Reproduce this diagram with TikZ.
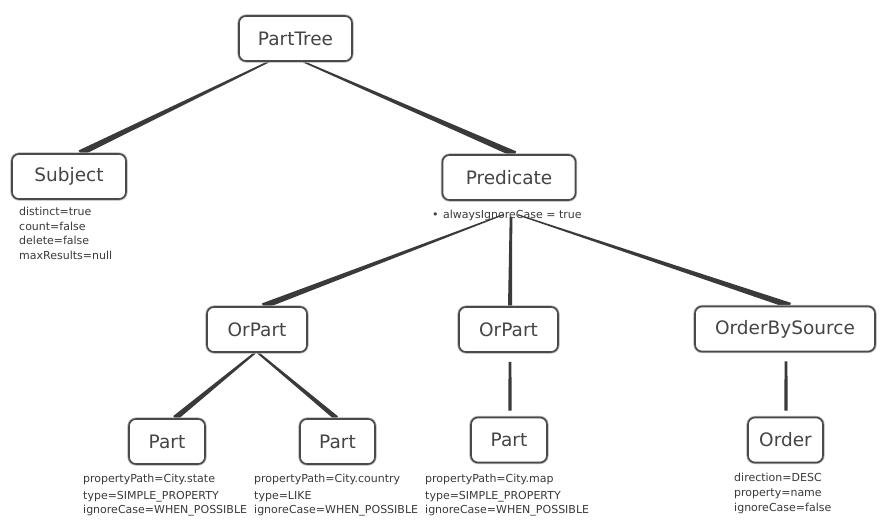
\documentclass[tikz,border=0pt]{standalone}
\usepackage{fontspec}
\setmainfont{DejaVu Sans}
\usetikzlibrary{calc}
\pgfdeclarelayer{bg}
\pgfsetlayers{bg,main}
\definecolor{boxline}{HTML}{4A4A4A}
\definecolor{boxtext}{HTML}{454545}
\definecolor{lbl}{HTML}{3A3A3A}
\definecolor{linkcol}{HTML}{3A3A3A}
\newcommand\taperlink[4]{\fill[linkcol] ($(#1)!#3!90:(#2)$) -- ($(#2)!#4!-90:(#1)$) -- ($(#2)!#4!90:(#1)$) -- ($(#1)!#3!-90:(#2)$) -- cycle;}
\tikzset{
  box/.style={draw=boxline, line width=1.6pt, rounded corners=7pt, fill=white,
    text=boxtext, font=\fontsize{18.5}{22}\selectfont, minimum height=45pt, inner sep=0pt,
    preaction={draw=black!30, line width=3.2pt}},
  info/.style={text=lbl, font=\fontsize{11}{14.7}\selectfont, align=left, inner sep=0pt, anchor=north west},
  partinfo/.style={info, font=\fontsize{11}{14.5}\selectfont},
}
\begin{document}
\begin{tikzpicture}[x=1pt,y=-1pt]
\begin{pgfonlayer}{bg}
\fill[white] (0,0) rectangle (894,528);
\end{pgfonlayer}
\useasboundingbox (0,0) rectangle (894,528);

% nodes
\node[box, minimum width=113pt] (pt)  at (295.5,38.5) {PartTree};
\node[box, minimum width=114pt] (sub) at (69,176.5)   {Subject};
\node[box, minimum width=133pt] (pr)  at (509,177.5)  {Predicate};
\node[box, minimum width=100pt] (orl) at (257,329.5)  {OrPart};
\node[box, minimum width=99pt]  (orm) at (508.5,329.5){OrPart};
\node[box, minimum width=180pt] (obs) at (785,329)    {OrderBySource};
\node[box, minimum width=76pt]  (p1)  at (167,441.5)  {Part};
\node[box, minimum width=75pt]  (p2)  at (337.5,441.5){Part};
\node[box, minimum width=76pt]  (p3)  at (509,440)    {Part};
\node[box, minimum width=75pt]  (ord) at (785.5,440)  {Order};

% labels
\node[info] (subi) at (19,207) {distinct=true\\count=false\\delete=false\\maxResults=null};
\node[info] (pri) at (432,209.5) {•\hspace{4.5pt}alwaysIgnoreCase = true};
\node[partinfo] (p1i) at (83,473.6) {propertyPath=City.state\\[2.5pt]type=SIMPLE\_PROPERTY\\ignoreCase=WHEN\_POSSIBLE};
\node[partinfo] (p2i) at (254,473.6) {propertyPath=City.country\\[2.5pt]type=LIKE\\ignoreCase=WHEN\_POSSIBLE};
\node[partinfo] (p3i) at (425,473.6) {propertyPath=City.map\\[2.5pt]type=SIMPLE\_PROPERTY\\ignoreCase=WHEN\_POSSIBLE};
\node[info, font=\fontsize{11}{15}\selectfont] (ordi) at (734,472.6) {direction=DESC\\property=name\\ignoreCase=false};

% connector end points
\coordinate (a1) at ($(pt.south)+(-27,0)$);
\coordinate (b1) at ($(sub.north)+(11,0)$);
\coordinate (a2) at ($(pt.south)+(8,0)$);
\coordinate (b2) at ($(pr.north)+(6,0)$);
\coordinate (a3) at ($(pr.south)+(-6,14)$);
\coordinate (b3) at ($(orl.north)+(6,0)$);
\coordinate (a4) at ($(pr.south)+(2,16)$);
\coordinate (b4) at ($(orm.north)+(1.5,0)$);
\coordinate (a5) at ($(pr.south)+(9,14)$);
\coordinate (b5) at ($(obs.north)+(5,0)$);
\coordinate (a6) at ($(orl.south)+(-2,0)$);
\coordinate (b6) at ($(p1.north)+(8,0)$);
\coordinate (a7) at ($(orl.south)+(1,0)$);
\coordinate (b7) at ($(p2.north)+(-1,0)$);
\coordinate (a8) at ($(orm.south)+(1.5,9)$);
\coordinate (b8) at ($(p3.north)+(1,-6)$);
\coordinate (a9) at ($(obs.south)+(1,9)$);
\coordinate (b9) at ($(ord.north)+(0.5,-6)$);

\begin{pgfonlayer}{bg}
\taperlink{a1}{b1}{0.8pt}{3.1pt}
\taperlink{a2}{b2}{0.8pt}{3.1pt}
\taperlink{a3}{b3}{0.6pt}{3.0pt}
\taperlink{a4}{b4}{1.3pt}{2.0pt}
\taperlink{a5}{b5}{0.6pt}{3.0pt}
\taperlink{a6}{b6}{1.0pt}{2.8pt}
\taperlink{a7}{b7}{1.0pt}{2.4pt}
\taperlink{a8}{b8}{1.4pt}{1.7pt}
\taperlink{a9}{b9}{1.4pt}{1.7pt}
\end{pgfonlayer}
\end{tikzpicture}
\end{document}
